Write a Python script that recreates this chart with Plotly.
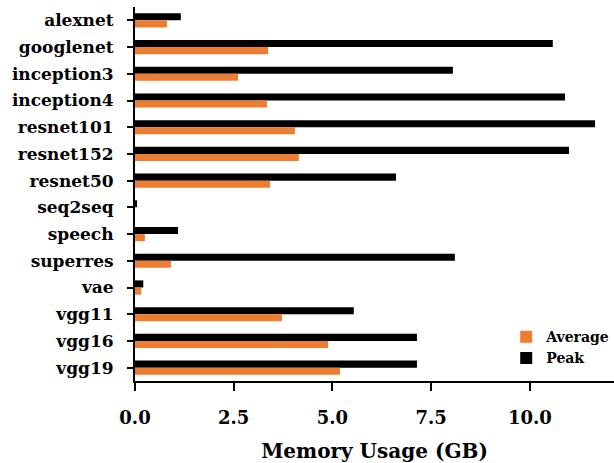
import plotly.graph_objects as go

models = ["alexnet", "googlenet", "inception3", "inception4", "resnet101", "resnet152",
          "resnet50", "seq2seq", "speech", "superres", "vae", "vgg11", "vgg16", "vgg19"]
average_gb = [0.81, 3.37, 2.61, 3.34, 4.05, 4.15, 3.42, 0.0, 0.25, 0.91, 0.16, 3.72, 4.89, 5.19]
peak_gb = [1.16, 10.58, 8.05, 10.89, 11.65, 10.99, 6.61, 0.04, 1.09, 8.10, 0.21, 5.54, 7.14, 7.14]
x_ticks = [0, 2.5, 5, 7.5, 10]
x_tick_text = ["0.0", "2.5", "5.0", "7.5", "10.0"]

FONT = "DejaVu Serif"

fig = go.Figure()
fig.add_trace(go.Bar(y=models, x=peak_gb, orientation="h", name="Peak",
                     marker=dict(color="#000000", line=dict(width=0))))
fig.add_trace(go.Bar(y=models, x=average_gb, orientation="h", name="Average",
                     marker=dict(color="#ED7D31", line=dict(width=0))))

fig.update_layout(
    width=614, height=463,
    margin=dict(l=135, r=0, t=7, b=82, autoexpand=False),
    paper_bgcolor="white", plot_bgcolor="white",
    barmode="group", bargap=0.47, bargroupgap=0,
    font=dict(family=FONT, color="black"),
    showlegend=True,
    legend=dict(x=0.775, xanchor="left", y=0.16, yanchor="top",
                traceorder="reversed", bgcolor="rgba(0,0,0,0)",
                font=dict(family=FONT, size=14, weight="bold", color="black"),
                tracegroupgap=0, itemwidth=30),
)
fig.update_xaxes(
    range=[0, 12.13], tickvals=x_ticks, ticktext=x_tick_text,
    automargin=False,
    showgrid=False, zeroline=False, showline=True, linecolor="black", linewidth=2,
    ticks="outside", ticklen=8, tickwidth=2, tickcolor="black",
    tickfont=dict(family=FONT, size=18, weight="bold", color="black"),
    ticklabelstandoff=11,
    title=dict(text="Memory Usage (GB)", standoff=18,
               font=dict(family=FONT, size=20, weight="bold", color="black")),
)
fig.update_yaxes(
    categoryorder="array", categoryarray=models, autorange="reversed", automargin=False,
    showgrid=False, zeroline=False, showline=True, linecolor="black", linewidth=2,
    ticks="outside", ticklen=6, tickwidth=2, tickcolor="black",
    tickfont=dict(family=FONT, size=17, weight="bold", color="black"),
    ticklabelstandoff=10,
)

fig.write_html("out.html", config={"displayModeBar": False},
               post_script="document.body.style.margin='0';")
